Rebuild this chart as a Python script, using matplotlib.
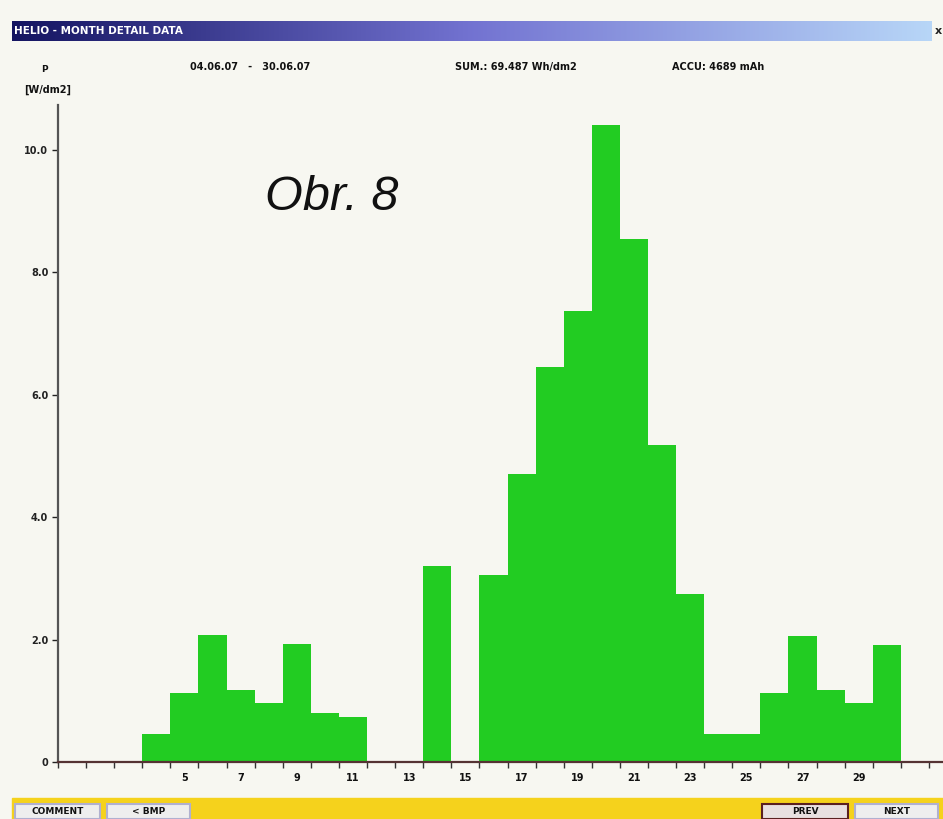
import numpy as np
import matplotlib
matplotlib.use("Agg")
import matplotlib.pyplot as plt
from matplotlib.patches import Rectangle

# daily mean irradiance, June 2007
days = list(range(1, 31))
power = [0, 0, 0, 0.46, 1.13, 2.07, 1.18, 0.96, 1.93, 0.80,
         0.73, 0, 0, 3.20, 0, 3.06, 4.71, 6.45, 7.36, 10.41,
         8.54, 5.18, 2.75, 0.45, 0.45, 1.13, 2.06, 1.17, 0.97, 1.91]
y_ticks = [0, 2, 4, 6, 8, 10]
y_labels = ["0", "2.0", "4.0", "6.0", "8.0", "10.0"]
x_labels = [5, 7, 9, 11, 13, 15, 17, 19, 21, 23, 25, 27, 29]

date_range = "04.06.07   -   30.06.07"
sum_text = "SUM.: 69.487 Wh/dm2"
accu_text = "ACCU: 4689 mAh"

bg = "#f7f7f1"
green = "#22cc22"
W, H = 943, 819

fig = plt.figure(figsize=(W / 100, H / 100), dpi=100, facecolor=bg)


def fx(px):
    return px / W


def fy(py):
    return 1 - py / H


# window title bar with a navy -> light blue gradient
tb = fig.add_axes([fx(12), fy(41), fx(931 - 12), (41 - 21) / H])
grad = np.linspace(0, 1, 400)
c0 = np.array([0.08, 0.08, 0.38])
c1 = np.array([0.45, 0.45, 0.82])
c2 = np.array([0.72, 0.84, 0.97])
cols = np.where(grad[:, None] < 0.5,
                c0 + (c1 - c0) * (grad[:, None] / 0.5),
                c1 + (c2 - c1) * ((grad[:, None] - 0.5) / 0.5))
tb.imshow(cols[None, :, :], aspect="auto", extent=[0, 1, 0, 1])
tb.set_axis_off()
fig.text(fx(14), fy(31), "HELIO - MONTH DETAIL DATA", color="white",
         fontsize=7.5, fontweight="bold", va="center", ha="left")
fig.text(fx(938), fy(31), "x", color="#222222", fontsize=8,
         fontweight="bold", va="center", ha="center")

# header line
hdr = dict(fontsize=7, fontweight="bold", va="center", ha="left", color="#111111")
fig.text(fx(190), fy(67), date_range, **hdr)
fig.text(fx(455), fy(67), sum_text, **hdr)
fig.text(fx(672), fy(67), accu_text, **hdr)
fig.text(fx(44), fy(70), "P", fontsize=6.5, fontweight="bold",
         ha="center", va="center", color="#111111")
fig.text(fx(48), fy(90), "[W/dm2]", fontsize=7, fontweight="bold",
         ha="center", va="center", color="#111111")

# main chart
ax = fig.add_axes([fx(58), fy(762), fx(943 - 58), (762 - 105) / H])
ax.set_facecolor(bg)
ax.bar(days, power, width=1.0, color=green, linewidth=0, align="center")

ax.set_xlim(0.5, 32.0)
ax.set_ylim(0, 10.73)

ax.set_yticks(y_ticks)
ax.set_yticklabels(y_labels)
ax.tick_params(axis="y", direction="out", length=4, width=1, pad=3,
               labelsize=7, colors="#222222")
for t in ax.get_yticklabels():
    t.set_fontweight("bold")

# ticks on day boundaries, labels in the middle of each day
ax.set_xticks(np.arange(0.5, 32, 1.0))
ax.set_xticklabels([])
ax.tick_params(axis="x", which="major", direction="out", length=4,
               width=1, colors="#333333")
ax.set_xticks(x_labels, minor=True)
ax.set_xticklabels([str(d) for d in x_labels], minor=True)
ax.tick_params(axis="x", which="minor", length=0, pad=8, labelsize=7,
               labelcolor="#111111")
for t in ax.get_xticklabels(minor=True):
    t.set_fontweight("bold")

for s in ["top", "right"]:
    ax.spines[s].set_visible(False)
ax.spines["left"].set_color("#555555")
ax.spines["left"].set_linewidth(1.6)
ax.spines["bottom"].set_color("#553333")
ax.spines["bottom"].set_linewidth(1.6)

ax.text(fx(265) , fy(197), "Obr. 8", transform=fig.transFigure, fontsize=35,
        fontstyle="italic", family="Liberation Sans", color="#111111",
        ha="left", va="center")

# bottom button strip
fig.patches.append(Rectangle((fx(12), 0), fx(943 - 12), (819 - 798) / H,
                             transform=fig.transFigure, color="#f5d21c",
                             zorder=0))
buttons = [("COMMENT", 15, 100, "#eeeeee", "#b0b0d0"),
           ("< BMP", 107, 190, "#eeeeee", "#b0b0d0"),
           ("PREV", 762, 848, "#e8e0e0", "#5a2020"),
           ("NEXT", 855, 938, "#eeeeee", "#b0b0d0")]
for label, x0, x1, face, edge in buttons:
    fig.patches.append(Rectangle((fx(x0), 0), fx(x1 - x0), (819 - 804) / H,
                                 transform=fig.transFigure, facecolor=face,
                                 edgecolor=edge, linewidth=1.5, zorder=1))
    fig.text(fx((x0 + x1) / 2), fy(812), label, fontsize=6.5,
             fontweight="bold", ha="center", va="center", color="#111111")

fig.savefig("out.png", dpi=100, facecolor=bg)
